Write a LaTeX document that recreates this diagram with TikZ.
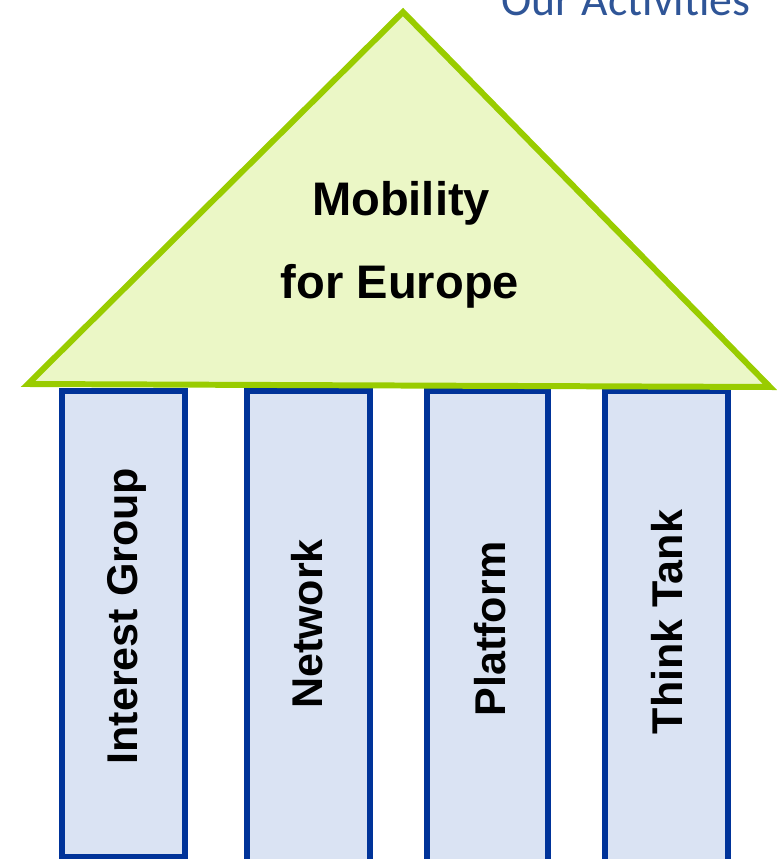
\documentclass[tikz,border=0pt]{standalone}
\usepackage{fontspec}
\setmainfont{Liberation Sans}
\newfontfamily\headfont{Carlito}
\usepackage{tikz}
\definecolor{roofline}{HTML}{99CC00}
\definecolor{rooffill}{HTML}{EBF7C6}
\definecolor{pillarline}{HTML}{003399}
\definecolor{pillarfill}{HTML}{DAE3F3}
\definecolor{heading}{HTML}{2F5597}
\tikzset{
  roof/.style={draw=roofline, fill=rooffill, line width=3.4pt, line join=miter},
  pillar/.style={draw=pillarline, fill=pillarfill, line width=3.4pt},
  roottext/.style={font=\bfseries\fontsize{26.8}{30}\selectfont, anchor=base, inner sep=0pt},
  pillartext/.style={font=\bfseries\fontsize{24.5}{28}\selectfont, rotate=90, anchor=base, inner sep=0pt},
  headtext/.style={font=\headfont\fontsize{26}{30}\selectfont, text=heading, anchor=base west, inner sep=0pt},
}

\begin{document}
\begin{tikzpicture}[x=0.02cm, y=-0.02cm]
\useasboundingbox (0,0) rectangle (777,859);
\node[headtext] (head) at (501,15) {Our Activities};

% pillars
\draw[pillar] (62,391) rectangle (185,857);
\draw[pillar] (247,391) rectangle (370,866);
\draw[pillar] (427,391) rectangle (548,866);
\draw[pillar] (605,391) rectangle (728,866);

% roof
\coordinate (apex) at (403,12);
\coordinate (left) at (28,384);
\coordinate (right) at (770,387);
\draw[roof] (apex) -- (right) -- (left) -- cycle;
\node[roottext] (mob) at (401,215) {Mobility};
\node[roottext] (eur) at (400,298) {for Europe};

\node[pillartext] (p1) at (137,616) {Interest Group};
\node[pillartext] (p2) at (322,624) {Network};
\node[pillartext] (p3) at (505,629) {Platform};
\node[pillartext] (p4) at (682,622) {Think Tank};
\end{tikzpicture}
\end{document}
